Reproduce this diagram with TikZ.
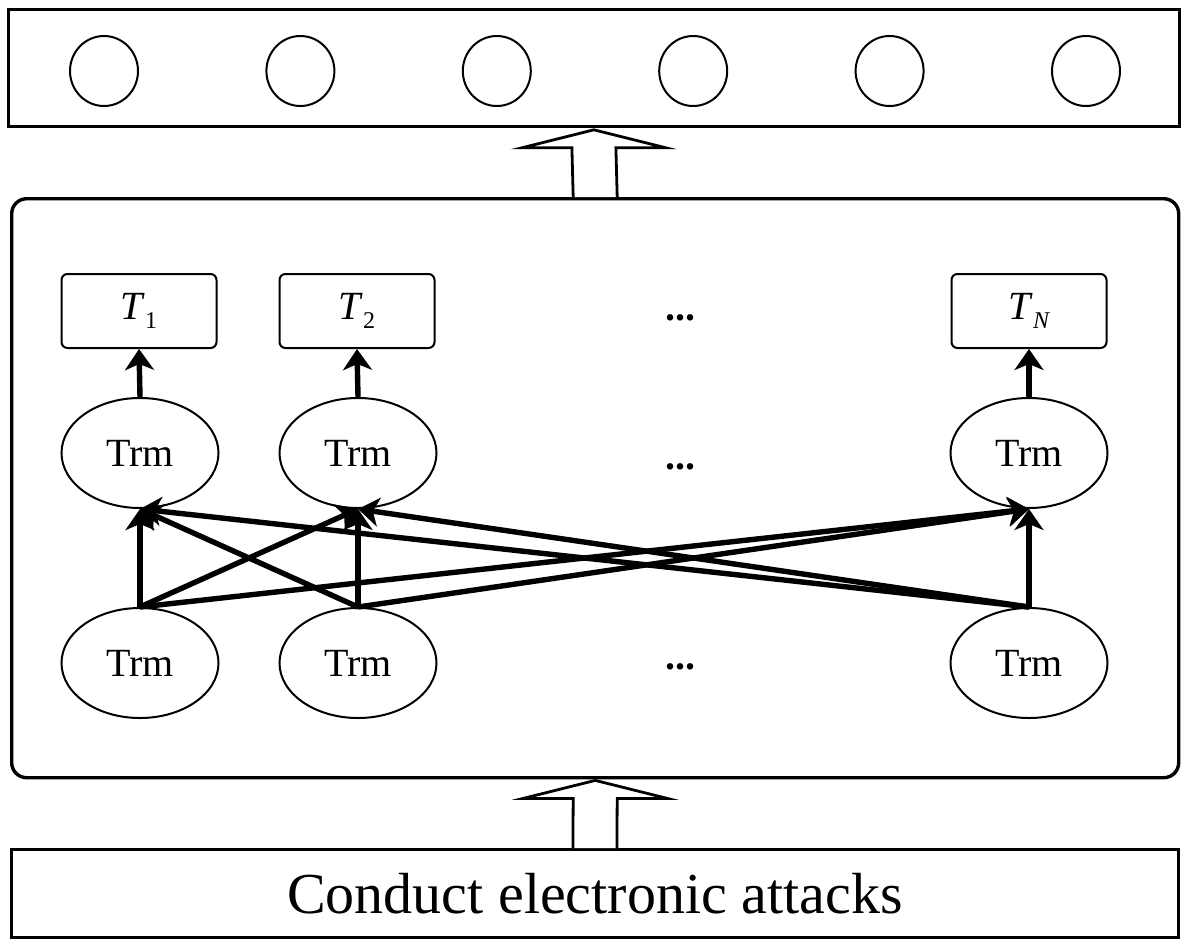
\documentclass[tikz,border=0pt]{standalone}
\usepackage{fontspec}
\setmainfont{Liberation Serif}
\usetikzlibrary{shapes.geometric,calc,arrows.meta}

\begin{document}
\begin{tikzpicture}[
  x=1pt, y=-1pt,
  box/.style={draw, line width=2.8pt, inner sep=0pt, anchor=north west},
  unit/.style={draw, ellipse, line width=2pt, minimum width=68pt, minimum height=70pt},
  tok/.style={draw, rounded corners=6pt, line width=2pt, minimum width=155pt,
    minimum height=74pt, font=\fontsize{40}{40}\selectfont\itshape},
  trm/.style={draw, ellipse, line width=2pt, minimum width=157pt,
    minimum height=110pt, font=\fontsize{40}{40}\selectfont},
  dots/.style={font=\fontsize{40}{40}\selectfont\bfseries},
  link/.style={line width=5.4pt, -{Stealth[length=21pt,width=29pt,inset=6pt]}},
  hollow/.style={draw, fill=white, line width=2.8pt, line join=miter}
]
\useasboundingbox (0,0) rectangle (1187,946);

%================================================
% OUTPUT LAYER
%================================================
\node[box, minimum width=1171pt, minimum height=117pt] (out) at (7,8) {};

\foreach \i in {0,...,5}
  \node[unit] (unit\i) at (104+196.4*\i,71) {};

%================================================
% TRANSFORMER BLOCK
%================================================
\node[box, rounded corners=15pt, line width=3.4pt,
  minimum width=1167pt, minimum height=579pt] (hid) at (10,197) {};

% output tokens
\node[tok] (tok1) at (139,311) {T\kern2pt\raisebox{-9pt}{\fontsize{24}{24}\selectfont\upshape 1}};
\node[tok] (tok2) at (357,311) {T\kern2pt\raisebox{-9pt}{\fontsize{24}{24}\selectfont\upshape 2}};
\node[tok] (tokN) at (1029,311) {T\kern2pt\raisebox{-9pt}{\fontsize{24}{24}\selectfont N}};

% upper and lower Trm layers
\foreach \n/\x in {1/140,2/358,N/1029}{
  \node[trm] (up\n) at (\x,453) {Trm};
  \node[trm] (lo\n) at (\x,663) {Trm};
}

\node[dots] (dt) at (680,318) {...};
\node[dots] (du) at (680,467) {...};
\node[dots] (dl) at (680,667) {...};

% arrows
\foreach \n in {1,2,N}
  \draw[link] (up\n.north) -- (tok\n.south);

\foreach \s in {1,2,N}
  \foreach \t in {1,2,N}
    \draw[link] (lo\s.north) -- (up\t.south);

%================================================
% INPUT LAYER
%================================================
\node[box, minimum width=1167pt, minimum height=88pt,
  font=\fontsize{58}{58}\selectfont] (inp) at (10,848) {Conduct electronic attacks};

% hollow arrows between layers
\draw[hollow] ($(hid.north)+(-22,0)$) -- ($(out.south)+(-22,20)$)
  -- ($(out.south)+(-72,20)$) -- ($(out.south)+(0,2)$) -- ($(out.south)+(72,20)$)
  -- ($(out.south)+(22,20)$) -- ($(hid.north)+(22,0)$);
\draw[hollow] ($(inp.north)+(-22,0)$) -- ($(hid.south)+(-22,19)$)
  -- ($(hid.south)+(-72,19)$) -- ($(hid.south)+(0,1)$) -- ($(hid.south)+(72,19)$)
  -- ($(hid.south)+(22,19)$) -- ($(inp.north)+(22,0)$);

\end{tikzpicture}
\end{document}
